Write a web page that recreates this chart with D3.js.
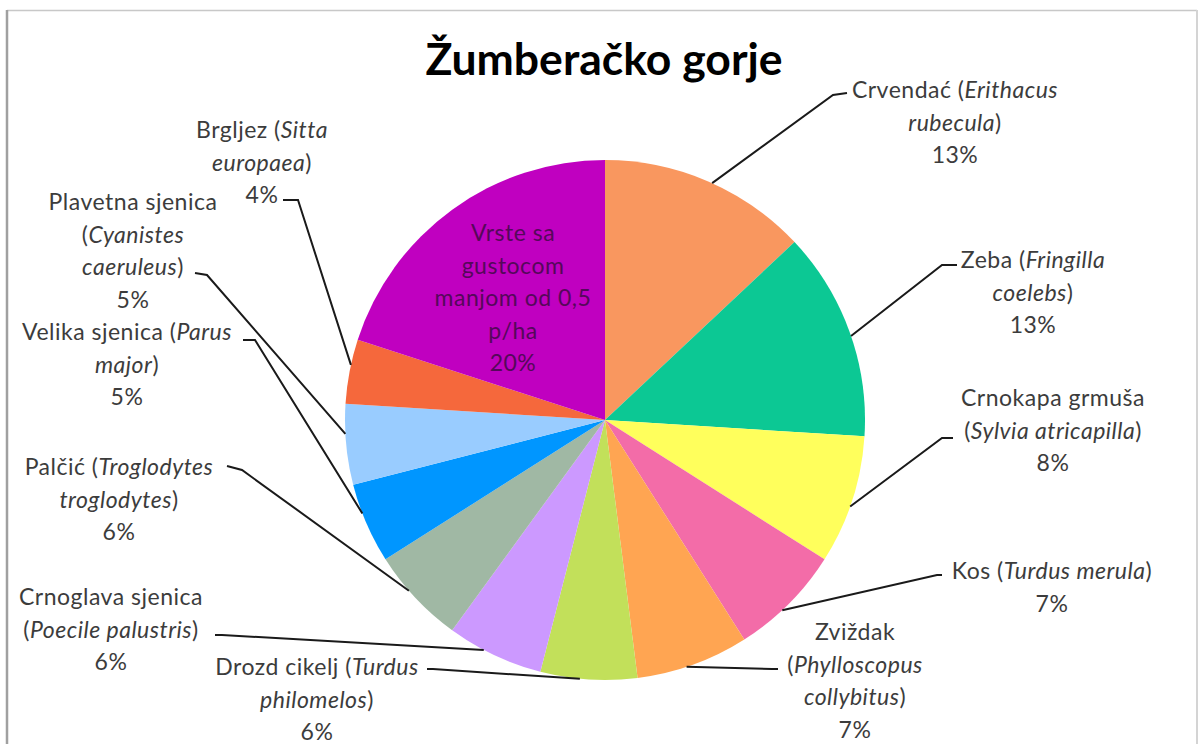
<!DOCTYPE html>
<html>
<head>
<meta charset="utf-8">
<script src="https://cdn.jsdelivr.net/npm/d3@7"></script>
<style>
  body { margin: 0; background: #fff; }
  text { font-family: Lato, "Open Sans", sans-serif; }
</style>
</head>
<body>
<svg id="chart"></svg>
<script>
var width = 1202;
var height = 744;
var cx = 605, cy = 420, radius = 260;

// data
var species = ["Crvendać", "Zeba", "Crnokapa grmuša", "Kos", "Zviždak", "Drozd cikelj",
  "Crnoglava sjenica", "Palčić", "Velika sjenica", "Plavetna sjenica", "Brgljez",
  "Vrste sa gustocom manjom od 0,5 p/ha"];
var latin = ["Erithacus rubecula", "Fringilla coelebs", "Sylvia atricapilla", "Turdus merula",
  "Phylloscopus collybitus", "Turdus philomelos", "Poecile palustris", "Troglodytes troglodytes",
  "Parus major", "Cyanistes caeruleus", "Sitta europaea", ""];
var shares = [13, 13, 8, 7, 7, 6, 6, 6, 5, 5, 4, 20];
var colors = ["#F9975F", "#0CC894", "#FFFF5C", "#F36CA8", "#FFA552", "#C2E05A",
  "#CC99FF", "#A0B8A4", "#0096FF", "#99CCFF", "#F5683C", "#C000C0"];

// label text, *...* = italic
var labelLines = [
  ["Crvendać (*Erithacus*", "*rubecula*)"],
  ["Zeba (*Fringilla*", "*coelebs*)"],
  ["Crnokapa grmuša", "(*Sylvia atricapilla*)"],
  ["Kos (*Turdus merula*)"],
  ["Zviždak", "(*Phylloscopus*", "*collybitus*)"],
  ["Drozd cikelj (*Turdus*", "*philomelos*)"],
  ["Crnoglava sjenica", "(*Poecile palustris*)"],
  ["Palčić (*Troglodytes*", "*troglodytes*)"],
  ["Velika sjenica (*Parus*", "*major*)"],
  ["Plavetna sjenica", "(*Cyanistes*", "*caeruleus*)"],
  ["Brgljez (*Sitta*", "*europaea*)"],
  ["Vrste sa", "gustocom", "manjom od 0,5", "p/ha"]
];

// label layout: text centre x, first baseline y, leader attach (fraction of slice), elbow, end
var labelLayout = [
  { x: 955, y: 98, at: 0.52, elbow: [833, 95], end: [847, 93] },
  { x: 1033, y: 268, at: 0.52, elbow: [942, 265], end: [957, 265] },
  { x: 1053, y: 406, at: 0.55, elbow: [942, 438], end: [953, 438] },
  { x: 1052, y: 579, at: 0.58, elbow: [937, 575], end: [942, 575] },
  { x: 855, y: 640, at: 0.56, elbow: [772, 669], end: [778, 669] },
  { x: 317, y: 675, at: 0.59, elbow: [433, 669], end: [427, 669] },
  { x: 111, y: 605, at: 0.62, elbow: [222, 635], end: [215, 635] },
  { x: 119, y: 475, at: 0.60, elbow: [242, 470], end: [227, 466] },
  { x: 127, y: 340, at: 0.63, elbow: [255, 340], end: [243, 340] },
  { x: 133, y: 210, at: 0.63, elbow: [207, 275], end: [195, 273] },
  { x: 262, y: 138, at: 0.60, elbow: [298, 200], end: [283, 200] },
  { x: 513, y: 241, at: null }
];
var lineGap = 32.5;

var svg = d3.select("#chart")
  .attr("width", width)
  .attr("height", height);

svg.append("rect")
  .attr("width", width)
  .attr("height", height)
  .attr("fill", "#fff");

// frame
svg.append("line").attr("x1", 7).attr("x2", 1197).attr("y1", 10.5).attr("y2", 10.5)
  .attr("stroke", "#c8c8c8").attr("stroke-width", 1.5);
svg.append("line").attr("x1", 7).attr("x2", 7).attr("y1", 10).attr("y2", height)
  .attr("stroke", "#a0a0a0").attr("stroke-width", 2.5);
svg.append("line").attr("x1", 1197).attr("x2", 1197).attr("y1", 10).attr("y2", height)
  .attr("stroke", "#d4d4d4").attr("stroke-width", 2);

svg.append("text")
  .attr("x", 604)
  .attr("y", 75)
  .attr("text-anchor", "middle")
  .style("font-size", "44.5px")
  .style("font-weight", "bold")
  .attr("fill", "#000")
  .text("Žumberačko gorje");

var pie = d3.pie().sort(null).value(function(d) { return d; });
var arcs = pie(shares);
var arc = d3.arc().innerRadius(0).outerRadius(radius);

var g = svg.append("g").attr("transform", "translate(" + cx + "," + cy + ")");

g.selectAll("path")
  .data(arcs)
  .enter()
  .append("path")
    .attr("d", arc)
    .attr("fill", function(d, i) { return colors[i]; });

// leader lines
arcs.forEach(function(d, i) {
  var lay = labelLayout[i];
  if (lay.at === null) return;
  var a = d.startAngle + (d.endAngle - d.startAngle) * lay.at;
  var p = d3.pointRadial(a, radius);
  var pts = [[cx + p[0], cy + p[1]], lay.elbow, lay.end];
  svg.append("path")
    .attr("d", d3.line()(pts))
    .attr("fill", "none")
    .attr("stroke", "#1a1a1a")
    .attr("stroke-width", 2);
});

// labels
arcs.forEach(function(d, i) {
  var lay = labelLayout[i];
  var lines = labelLines[i].concat([Math.round(d.value) + "%"]);
  var t = svg.append("text")
    .attr("text-anchor", "middle")
    .style("font-size", "23px")
    .style("letter-spacing", "0.5px")
    .attr("fill", lay.at === null ? "#55085a" : "#3c3c3c");
  lines.forEach(function(line, k) {
    var parts = line.split("*");
    parts.forEach(function(part, j) {
      if (part === "") return;
      var ts = t.append("tspan").text(part);
      if (j % 2 === 1) ts.style("font-style", "italic");
      if (j === 0 || (j === 1 && parts[0] === "")) {
        ts.attr("x", lay.x).attr("y", lay.y + k * lineGap);
      }
    });
  });
});
</script>
</body>
</html>
